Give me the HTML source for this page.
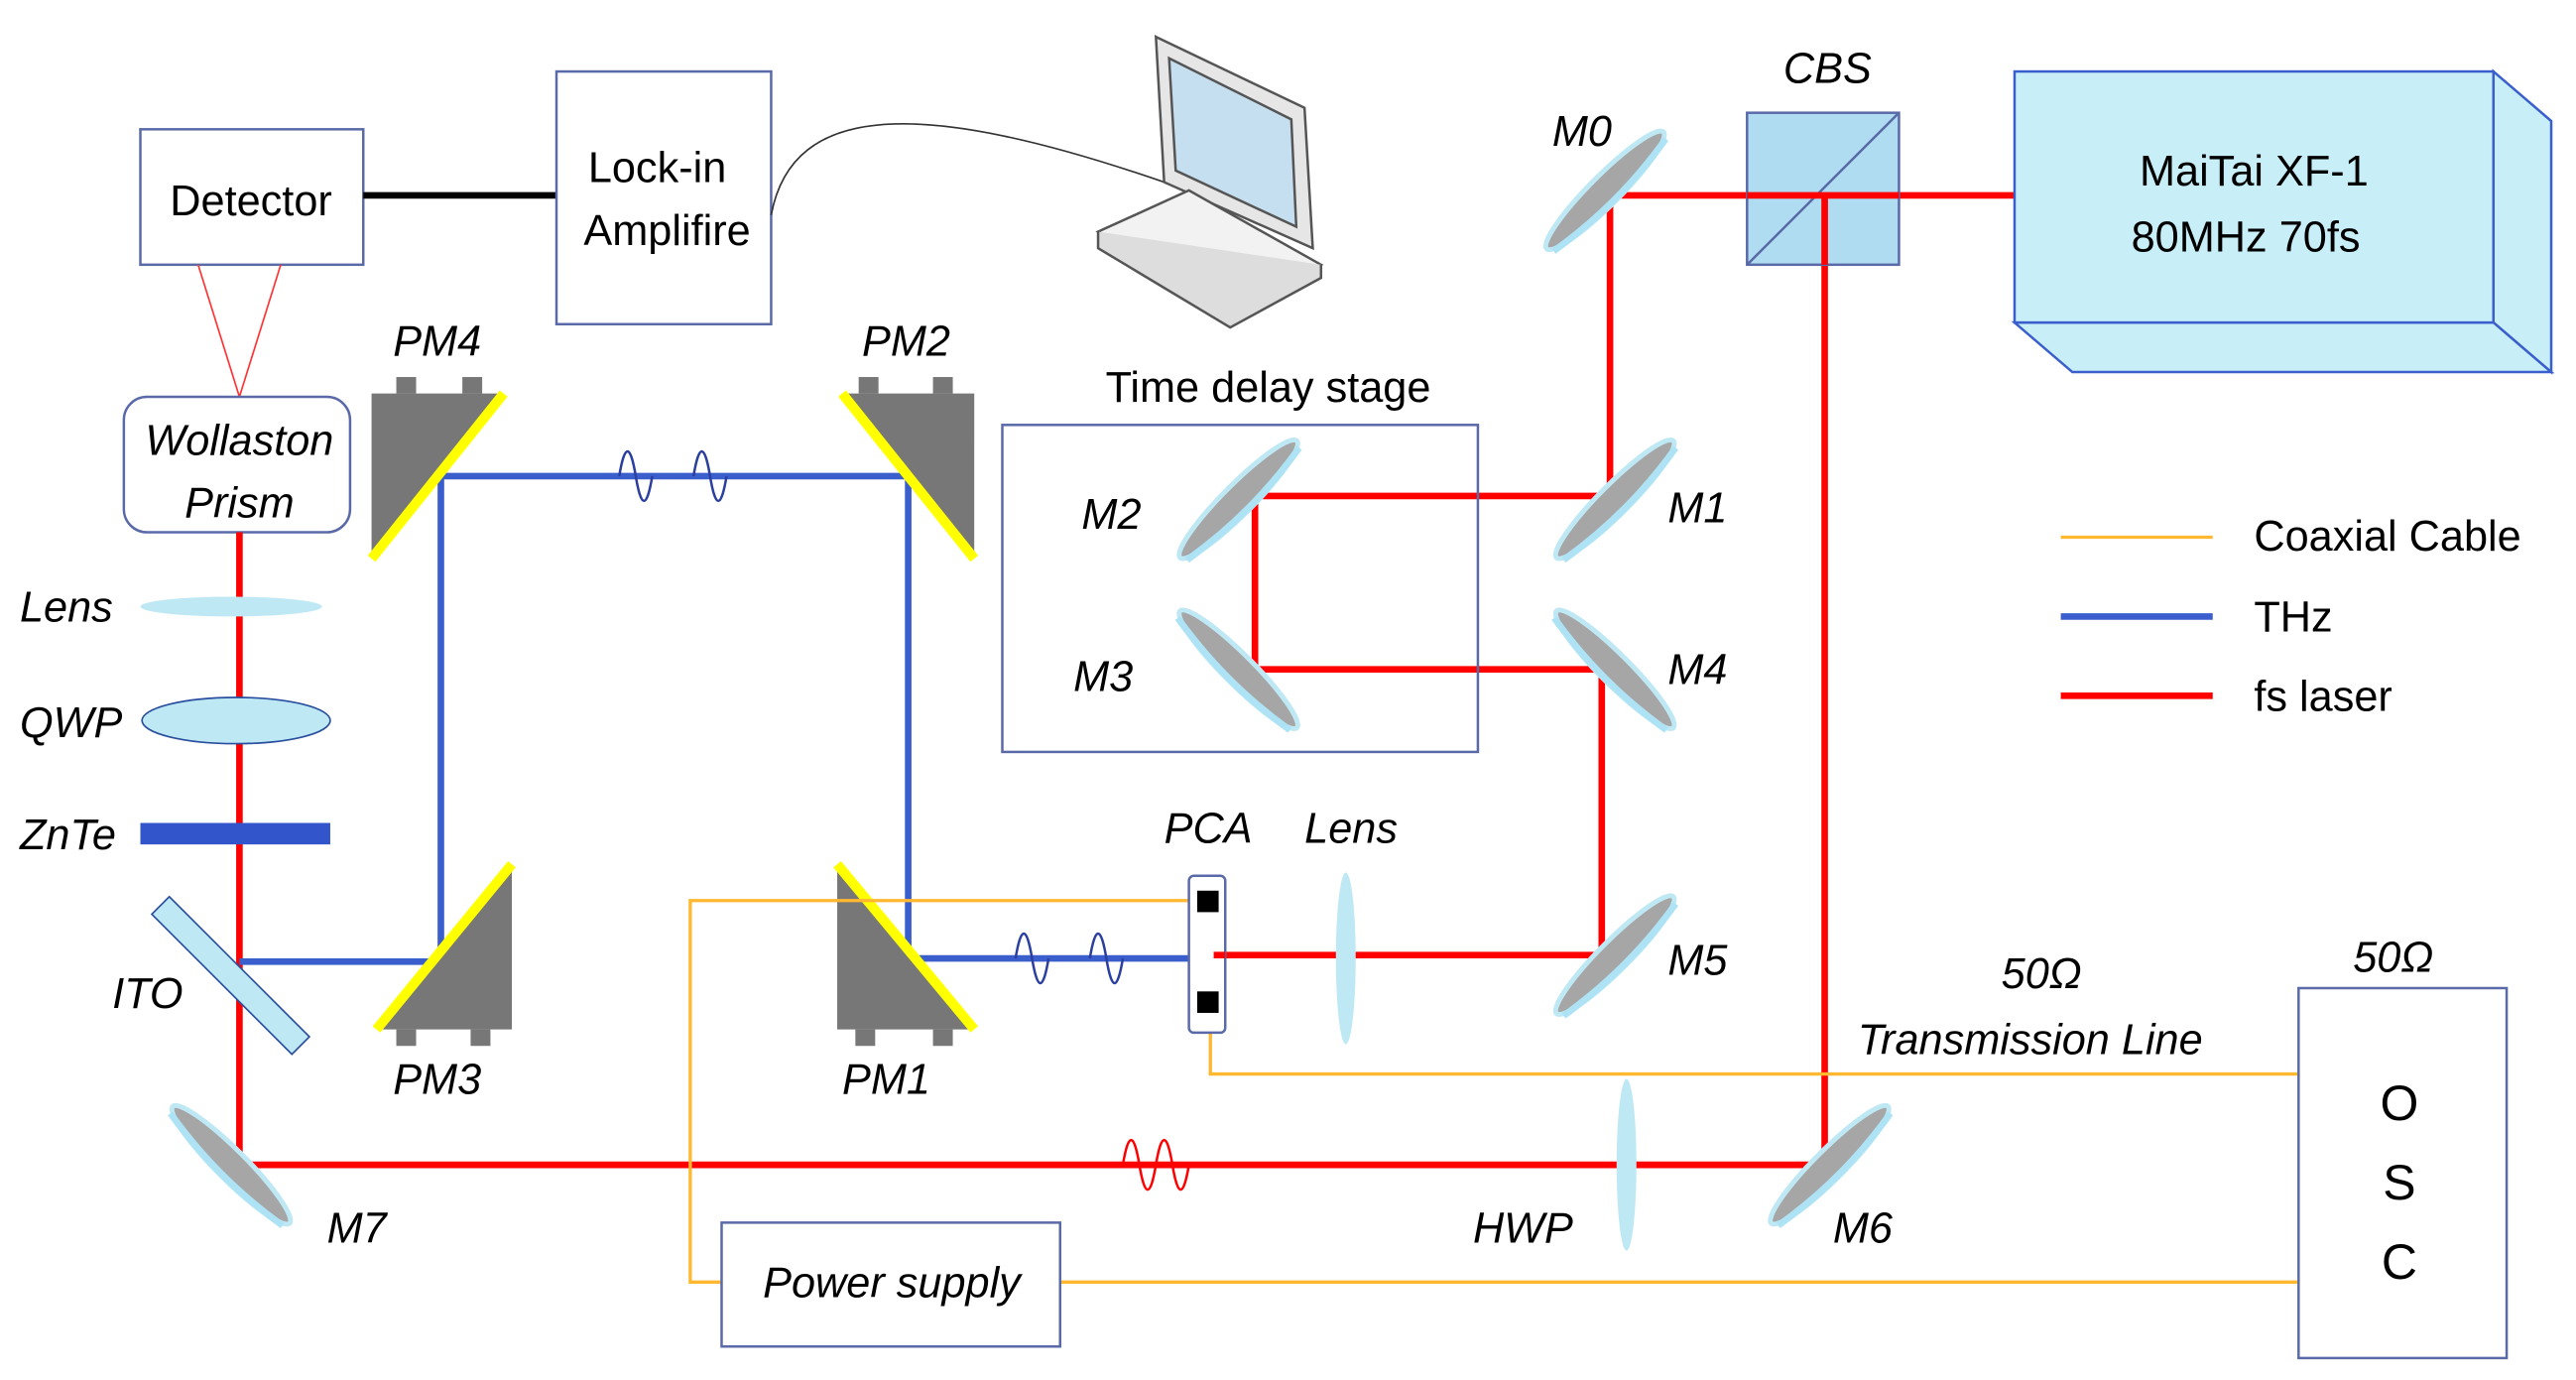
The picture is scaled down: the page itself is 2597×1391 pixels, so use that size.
<!DOCTYPE html>
<html><head><meta charset="utf-8"><style>html,body{margin:0;padding:0;background:#fff}svg{display:block}</style></head>
<body>
<svg width="2597" height="1391" viewBox="0 0 1560 835" xmlns="http://www.w3.org/2000/svg" font-family="Liberation Sans, sans-serif">
<defs>
<g id="mir"><ellipse cx="0" cy="0" rx="50" ry="9" fill="#a6a6a6" stroke="#bfe8f5" stroke-width="3"/><path d="M-48,4 Q0,12 48,4" stroke="#aee3f5" stroke-width="4" fill="none"/></g>
</defs>
<rect width="1560" height="835" fill="#fff"/>
<rect x="85" y="78" width="135" height="82" fill="#fff" stroke="#5a6aa8" stroke-width="1.5"/>
<text x="152" y="130" font-size="26" text-anchor="middle">Detector</text>
<line x1="220" y1="118" x2="337" y2="118" stroke="#000" stroke-width="4"/>
<rect x="337" y="43" width="130" height="153" fill="#fff" stroke="#5a6aa8" stroke-width="1.5"/>
<text x="398" y="110" font-size="26" text-anchor="middle">Lock-in</text>
<text x="404" y="148" font-size="26" text-anchor="middle">Amplifire</text>
<path d="M467,130 C480,60 560,60 705,110" stroke="#333" stroke-width="1" fill="none"/>
<g stroke="#555" stroke-width="1.5">
<path d="M700,22 L790,65 L795,150 L705,110 Z" fill="#e6e6e6"/>
<path d="M708,35 L782,72 L785,137 L712,103 Z" fill="#c6dff0"/>
<path d="M665,140 L720,115 L800,160 L745,190 Z" fill="#f2f2f2"/>
<path d="M665,140 L665,150 L745,198 L800,168 L800,160" fill="#ddd"/>
</g>
<line x1="120" y1="160" x2="145" y2="240" stroke="#f33" stroke-width="1"/>
<line x1="170" y1="160" x2="145" y2="240" stroke="#f33" stroke-width="1"/>
<rect x="75" y="240" width="137" height="82" rx="14" fill="#fff" stroke="#5a6aa8" stroke-width="1.5"/>
<text x="145" y="275" font-size="26" font-style="italic" text-anchor="middle">Wollaston</text>
<text x="145" y="313" font-size="26" font-style="italic" text-anchor="middle">Prism</text>
<g stroke="#f00" stroke-width="4" fill="none">
<polyline points="145,322 145,705 1105,705 1105,118"/>
<line x1="975" y1="118" x2="1220" y2="118"/>
<polyline points="975,118 975,300 760,300 760,405 970,405 970,578 735,578"/>
<path d="M680,705 q5,-30 10,0 t10,0 q5,-30 10,0 t10,0" stroke-width="1.5"/>
</g>
<g stroke="#3a5fcd" stroke-width="4" fill="none">
<polyline points="145,582 267,582 267,288 550,288 550,580 720,580"/>
</g>
<g stroke="#2a3f9f" stroke-width="1.5" fill="none">
<path d="M375,288 q5,-30 10,0 t10,0 m25,0 q5,-30 10,0 t10,0"/>
<path d="M615,580 q5,-30 10,0 t10,0 m25,0 q5,-30 10,0 t10,0"/>
</g>
<ellipse cx="140" cy="367" rx="55" ry="6" fill="#bfe8f5"/>
<ellipse cx="143" cy="436" rx="57" ry="14" fill="#bfe8f5" stroke="#2a4f9f" stroke-width="1"/>
<rect x="85" y="498" width="115" height="13" fill="#3355cc"/>
<rect x="80" y="583" width="120" height="15" fill="#bfe8f5" stroke="#2a4f9f" stroke-width="1" transform="rotate(45 140 590)"/>
<g font-size="26" font-style="italic">
<text x="12" y="376">Lens</text><text x="12" y="446">QWP</text><text x="12" y="514">ZnTe</text><text x="68" y="610">ITO</text>
<text x="238" y="215">PM4</text><text x="522" y="215">PM2</text><text x="238" y="662">PM3</text><text x="510" y="662">PM1</text>
<text x="940" y="88">M0</text><text x="1010" y="316">M1</text><text x="655" y="320">M2</text><text x="650" y="418">M3</text>
<text x="1010" y="414">M4</text><text x="1010" y="590">M5</text><text x="198" y="752">M7</text><text x="1110" y="752">M6</text>
<text x="1080" y="50">CBS</text><text x="705" y="510">PCA</text><text x="790" y="510">Lens</text><text x="892" y="752">HWP</text>
<text x="1212" y="598">50Ω</text><text x="1125" y="638">Transmission Line</text><text x="1425" y="588">50Ω</text>
</g>
<g>
<path d="M225,238 L305,238 L225,338 Z" fill="#777"/><line x1="305" y1="238" x2="225" y2="338" stroke="#ff0" stroke-width="6"/><rect x="240" y="228" width="12" height="10" fill="#777"/><rect x="280" y="228" width="12" height="10" fill="#777"/>
<path d="M510,238 L590,238 L590,338 Z" fill="#777"/><line x1="510" y1="238" x2="590" y2="338" stroke="#ff0" stroke-width="6"/><rect x="520" y="228" width="12" height="10" fill="#777"/><rect x="565" y="228" width="12" height="10" fill="#777"/>
<path d="M310,523 L310,623 L228,623 Z" fill="#777"/><line x1="310" y1="523" x2="228" y2="623" stroke="#ff0" stroke-width="6"/><rect x="240" y="623" width="12" height="10" fill="#777"/><rect x="285" y="623" width="12" height="10" fill="#777"/>
<path d="M507,523 L590,623 L507,623 Z" fill="#777"/><line x1="507" y1="523" x2="590" y2="623" stroke="#ff0" stroke-width="6"/><rect x="518" y="623" width="12" height="10" fill="#777"/><rect x="565" y="623" width="12" height="10" fill="#777"/>
</g>
<use href="#mir" transform="translate(972,115) rotate(-45)"/>
<use href="#mir" transform="translate(978,302) rotate(-45)"/>
<use href="#mir" transform="translate(750,302) rotate(-45)"/>
<use href="#mir" transform="translate(750,405) rotate(45)"/>
<use href="#mir" transform="translate(978,405) rotate(45)"/>
<use href="#mir" transform="translate(978,578) rotate(-45)"/>
<use href="#mir" transform="translate(140,705) rotate(45)"/>
<use href="#mir" transform="translate(1108,705) rotate(-45)"/>
<rect x="607" y="257" width="288" height="198" fill="none" stroke="#5a6aa8" stroke-width="1.5"/>
<text x="768" y="243" font-size="26" text-anchor="middle">Time delay stage</text>
<rect x="1058" y="68" width="92" height="92" fill="#a6d8ee" stroke="#5a6aa8" stroke-width="1.5" fill-opacity="0.9"/>
<line x1="1058" y1="160" x2="1150" y2="68" stroke="#5a6aa8" stroke-width="1.5"/>
<line x1="1058" y1="118" x2="1150" y2="118" stroke="#f00" stroke-width="4"/>
<line x1="1105" y1="118" x2="1105" y2="160" stroke="#f00" stroke-width="4"/>
<g stroke="#3a5fcd" stroke-width="1.5" fill="#c8eef8">
<path d="M1510,43 L1545,73 L1545,225 L1510,195 Z"/>
<path d="M1220,195 L1510,195 L1545,225 L1255,225 Z"/>
<rect x="1220" y="43" width="290" height="152"/>
</g>
<text x="1365" y="112" font-size="26" text-anchor="middle">MaiTai XF-1</text>
<text x="1360" y="152" font-size="26" text-anchor="middle">80MHz 70fs</text>
<line x1="1248" y1="325" x2="1340" y2="325" stroke="#ffb830" stroke-width="2"/>
<line x1="1248" y1="373" x2="1340" y2="373" stroke="#3a5fcd" stroke-width="4"/>
<line x1="1248" y1="421" x2="1340" y2="421" stroke="#f00" stroke-width="4"/>
<text x="1365" y="333" font-size="26">Coaxial Cable</text>
<text x="1365" y="382" font-size="26">THz</text>
<text x="1365" y="430" font-size="26">fs laser</text>
<g stroke="#ffb830" stroke-width="2" fill="none">
<polyline points="733,545 418,545 418,776 437,776"/>
<polyline points="733,608 733,650 1392,650"/>
<line x1="642" y1="776" x2="1392" y2="776"/>
</g>
<rect x="720" y="530" width="22" height="95" rx="3" fill="#fff" stroke="#5a6aa8" stroke-width="1.5"/>
<rect x="725" y="539" width="13" height="13" fill="#000"/>
<rect x="725" y="600" width="13" height="13" fill="#000"/>
<line x1="735" y1="578" x2="742" y2="578" stroke="#f00" stroke-width="4"/>
<ellipse cx="815" cy="580" rx="6" ry="52" fill="#bfe8f5"/>
<ellipse cx="985" cy="705" rx="6" ry="52" fill="#bfe8f5"/>
<rect x="437" y="740" width="205" height="75" fill="#fff" stroke="#5a6aa8" stroke-width="1.5"/>
<text x="540" y="785" font-size="26" font-style="italic" text-anchor="middle">Power supply</text>
<rect x="1392" y="598" width="126" height="224" fill="#fff" stroke="#5a6aa8" stroke-width="1.5"/>
<text x="1453" y="678" font-size="30" text-anchor="middle">O</text>
<text x="1453" y="726" font-size="30" text-anchor="middle">S</text>
<text x="1453" y="774" font-size="30" text-anchor="middle">C</text>
</svg>
</body></html>
